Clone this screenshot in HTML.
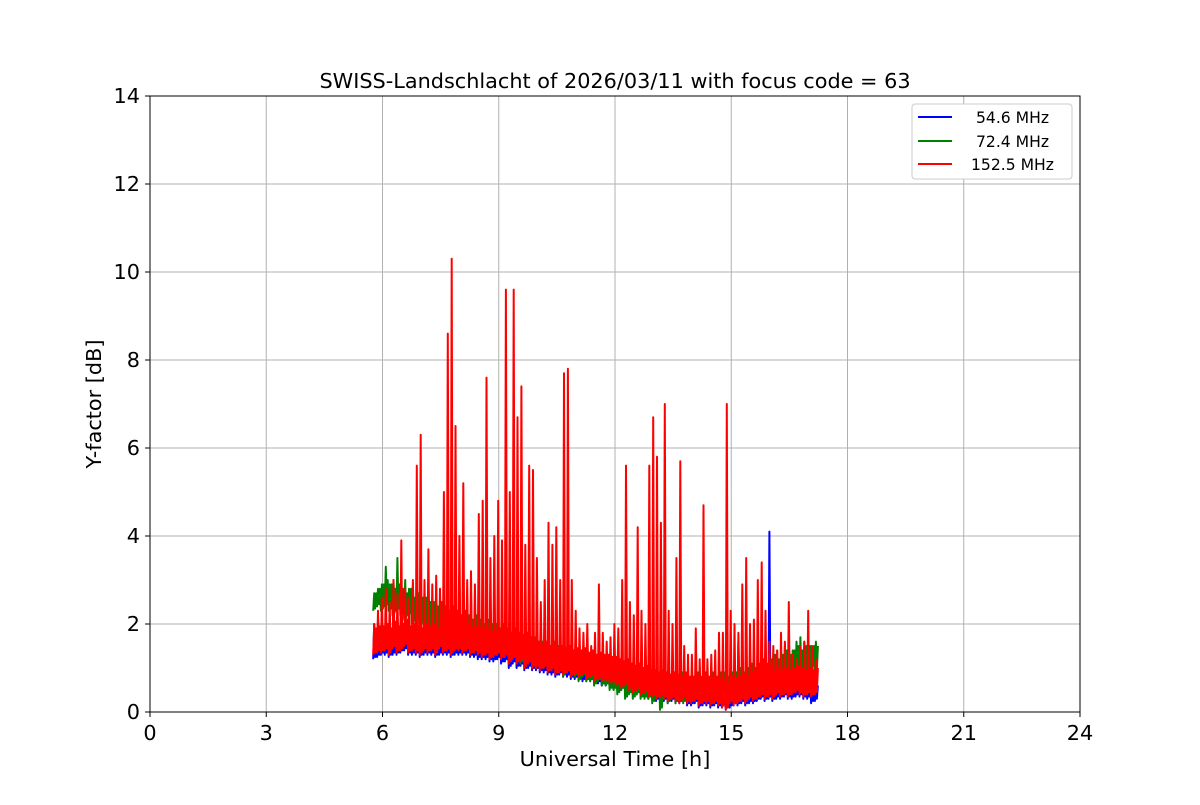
<!DOCTYPE html>
<html><head><meta charset="utf-8"><style>
body{margin:0;background:#fff;}
svg text{font-family:"DejaVu Sans","Liberation Sans",sans-serif;fill:#000;}
</style></head><body>
<svg id="chart" width="1200" height="800" viewBox="0 0 1200 800" xmlns="http://www.w3.org/2000/svg">
<rect width="1200" height="800" fill="#fff"/>
<g id="grid"></g>
<g id="series"></g>
<rect x="150" y="96" width="930" height="616" fill="none" stroke="#000" stroke-width="1"/>
<g id="axes"></g>
<text x="615" y="88" font-size="20.8" text-anchor="middle">SWISS-Landschlacht of 2026/03/11 with focus code = 63</text>
<text x="615" y="766" font-size="20.8" text-anchor="middle">Universal Time [h]</text>
<text transform="translate(101,404) rotate(-90)" font-size="20.8" text-anchor="middle">Y-factor [dB]</text>
<g>
<rect x="912" y="104" width="160" height="75" rx="3" fill="#fff" stroke="#ccc" stroke-width="1"/>
<line x1="918" y1="117" x2="952" y2="117" stroke="#0000ff" stroke-width="2"/>
<text x="976" y="123" font-size="15.6">54.6 MHz</text>
<line x1="918" y1="141" x2="952" y2="141" stroke="#008000" stroke-width="2"/>
<text x="976" y="147" font-size="15.6">72.4 MHz</text>
<line x1="918" y1="164" x2="952" y2="164" stroke="#ff0000" stroke-width="2"/>
<text x="971" y="170" font-size="15.6">152.5 MHz</text>
</g>
</svg>
<script>
const xTicks = [0,3,6,9,12,15,18,21,24];
const yTicks = [0,2,4,6,8,10,12,14];
const tStart = 5.8, tStep = 0.1;
const blueHi = [2.0,2.1, 2.0,2.1,2.2,2.1,2.2,2.0,2.1,2.0,2.1,2.0, 2.0,2.1,2.0,2.0,1.9,2.0,1.9,1.9,1.8,1.9, 1.9,1.8,2.5,1.8,1.8,1.7,1.8,1.7,1.6,1.7, 1.7,1.6,1.7,1.6,1.5,1.6,1.5,1.5,1.4,1.5, 1.4,1.3,1.4,1.3,1.3,1.2,1.3,1.2,1.2,1.1, 1.1,1.1,1.0,1.1,1.0,1.0,0.9,1.0,0.9,0.9, 0.9,0.8,0.9,0.8,0.8,0.7,0.8,0.7,0.7,0.6, 0.6,0.7,0.6,0.6,0.5,0.6,0.5,0.5,0.6,0.5, 0.5,0.5,0.4,0.5,0.5,0.4,0.5,0.4,0.4,0.5, 0.5,0.6,0.5,0.6,0.6,0.7,0.6,0.7,0.7,0.8, 4.1,0.8,0.7,0.8,0.8,0.9,0.8,1.0,0.8,0.9, 0.8,0.7,0.6];
const blueLo = [1.2,1.25, 1.3,1.3,1.25,1.3,1.3,1.35,1.4,1.3,1.3,1.3, 1.25,1.3,1.3,1.3,1.25,1.3,1.3,1.3,1.25,1.3, 1.3,1.3,1.3,1.25,1.25,1.2,1.2,1.2,1.15,1.15, 1.2,1.1,1.15,1.0,1.1,1.0,1.05,0.95,1.0,0.95, 0.95,0.9,0.9,0.85,0.85,0.8,0.85,0.8,0.8,0.75, 0.75,0.75,0.7,0.7,0.7,0.65,0.65,0.6,0.6,0.55, 0.55,0.5,0.5,0.5,0.45,0.4,0.4,0.35,0.4,0.3, 0.3,0.25,0.3,0.25,0.2,0.25,0.2,0.2,0.25,0.15, 0.15,0.2,0.1,0.15,0.15,0.1,0.15,0.1,0.1,0.05, 0.1,0.15,0.15,0.2,0.15,0.2,0.2,0.25,0.3,0.25, 0.3,0.25,0.3,0.3,0.35,0.3,0.3,0.35,0.35,0.3, 0.3,0.2,0.25];
const greenHi = [2.7,2.8, 2.9,3.3,2.9,3.0,3.5,2.9,3.0,2.8,2.9,2.7, 2.8,2.7,2.9,2.6,2.8,2.6,2.5,2.6,2.4,2.5, 2.5,2.4,2.3,2.4,2.3,2.2,2.3,2.2,2.1,2.2, 2.2,2.1,2.0,2.1,1.9,2.0,1.9,1.8,1.9,1.7, 1.7,1.6,1.7,1.5,1.6,1.5,1.6,1.4,1.5,1.4, 1.4,1.3,1.4,1.3,1.3,1.2,1.3,1.2,1.2,1.1, 1.2,1.1,1.1,1.0,1.1,1.0,1.0,0.9,1.0,1.0, 0.9,1.0,0.9,1.0,0.9,1.0,1.1,1.2,0.9,0.8, 1.0,0.9,1.0,1.0,0.9,1.1,1.0,0.9,1.0,1.2, 1.0,1.1,1.6,1.0,1.7,1.1,1.0,1.1,1.2,1.3, 1.2,1.3,1.4,1.3,1.5,1.6,1.4,1.6,1.7,1.6, 1.6,1.5,1.6];
const greenLo = [2.3,2.4, 2.3,2.4,2.3,2.2,2.3,2.2,2.1,2.2,2.0,2.1, 2.0,2.0,1.9,1.9,1.8,1.9,1.8,1.7,1.8,1.7, 1.6,1.7,1.6,1.5,1.6,1.5,1.4,1.5,1.4,1.4, 1.3,1.4,1.3,1.2,1.3,1.2,1.1,1.2,1.1,1.1, 1.0,1.1,1.0,0.9,1.0,0.9,0.9,0.8,0.9,0.8, 0.8,0.7,0.8,0.7,0.7,0.6,0.7,0.6,0.6,0.5, 0.5,0.4,0.5,0.3,0.4,0.3,0.4,0.3,0.3,0.3, 0.2,0.3,0.05,0.3,0.2,0.3,0.2,0.3,0.2,0.3, 0.2,0.3,0.2,0.3,0.2,0.3,0.2,0.3,0.3,0.2, 0.3,0.3,0.4,0.3,0.4,0.5,0.4,0.5,0.6,0.5, 0.6,0.7,0.6,0.7,0.8,0.7,0.8,0.9,0.8,0.9, 0.9,1.0,0.9];
const redHi = [2.0,2.3, 2.6,2.8,2.5,3.0,2.7,3.9,2.8,2.6,3.0,5.6, 6.3,3.0,3.7,2.9,3.1,2.8,5.0,8.6,10.3,6.5, 4.0,5.2,3.0,3.2,2.9,4.5,4.8,7.6,3.5,4.0, 4.8,3.9,9.6,5.0,9.6,6.7,7.4,3.8,5.6,5.5, 3.5,2.5,3.0,4.3,3.8,4.2,3.0,7.7,7.8,3.0, 2.3,1.9,1.8,2.0,1.5,1.8,2.9,1.8,1.6,1.7, 2.0,1.9,3.0,5.6,2.5,2.2,4.2,2.3,2.0,5.6, 6.7,5.8,4.3,7.0,2.3,2.0,3.5,5.7,1.5,1.3, 1.3,1.9,1.2,4.7,1.2,1.3,1.4,1.8,1.8,7.0, 2.3,2.0,1.8,2.9,3.5,2.0,2.1,3.0,3.4,2.3, 1.6,1.5,1.4,1.8,1.6,2.5,1.3,1.2,1.5,1.6, 2.3,1.5,1.2];
const redLo = [1.3,1.35, 1.35,1.4,1.3,1.45,1.35,1.4,1.5,1.35,1.4,1.35, 1.3,1.4,1.35,1.4,1.3,1.45,1.35,1.4,1.3,1.4, 1.4,1.35,1.4,1.3,1.35,1.3,1.25,1.3,1.2,1.25, 1.3,1.2,1.25,1.1,1.2,1.1,1.15,1.0,1.1,1.0, 1.0,0.95,1.0,0.9,0.95,0.85,0.9,0.85,0.9,0.8, 0.85,0.8,0.85,0.75,0.8,0.7,0.75,0.7,0.7,0.65, 0.65,0.6,0.55,0.6,0.5,0.45,0.5,0.4,0.45,0.35, 0.35,0.3,0.35,0.3,0.25,0.3,0.25,0.2,0.3,0.2, 0.2,0.25,0.15,0.2,0.2,0.15,0.2,0.15,0.1,0.05, 0.2,0.15,0.2,0.25,0.2,0.3,0.25,0.3,0.35,0.3, 0.35,0.3,0.4,0.35,0.4,0.35,0.4,0.45,0.4,0.35, 0.4,0.35,0.4];

const X0=150, X1=1080, Y0=712, Y1=96;
function xs(t){return X0 + (t/24)*(X1-X0);}
function ys(v){return Y0 - (v/14)*(Y0-Y1);}
const NS='http://www.w3.org/2000/svg';
const grid=document.getElementById('grid'), axes=document.getElementById('axes'), series=document.getElementById('series');
function mk(tag,attrs,parent){const e=document.createElementNS(NS,tag);for(const k in attrs)e.setAttribute(k,attrs[k]);parent.appendChild(e);return e;}

xTicks.forEach(t=>{
  const gl=mk('line',{x1:xs(t),x2:xs(t),y1:Y1,y2:Y0,stroke:'#b0b0b0','stroke-width':1},grid);
  
  
  mk('line',{x1:xs(t),x2:xs(t),y1:Y0,y2:Y0+5,stroke:'#000','stroke-width':1},axes);
  const tx=mk('text',{x:xs(t),y:Y0+28,'font-size':20.8,'text-anchor':'middle'},axes);
  tx.textContent=t;
  
  
});
yTicks.forEach(v=>{
  const gl=mk('line',{x1:X0,x2:X1,y1:ys(v),y2:ys(v),stroke:'#b0b0b0','stroke-width':1},grid);
  
  
  mk('line',{x1:X0-5,x2:X0,y1:ys(v),y2:ys(v),stroke:'#000','stroke-width':1},axes);
  const tx=mk('text',{x:X0-10,y:ys(v)+7,'font-size':20.8,'text-anchor':'end'},axes);
  tx.textContent=v;
  
  
});

function drawSeries(lo,hi,color,name){
  const pts=[];
  for(let i=0;i<lo.length;i++){
    const t=tStart+i*tStep;
    const body=Math.min(hi[i], lo[i]+0.6);
    pts.push(xs(t-0.04).toFixed(1)+','+ys(lo[i]).toFixed(1));
    pts.push(xs(t-0.015).toFixed(1)+','+ys(hi[i]).toFixed(1));
    pts.push(xs(t+0.01).toFixed(1)+','+ys(lo[i]+0.05).toFixed(1));
    pts.push(xs(t+0.035).toFixed(1)+','+ys(body).toFixed(1));
  }
  const p=mk('polyline',{points:pts.join(' '),fill:'none',stroke:color,'stroke-width':2,'stroke-linejoin':'round'},series);
  
  
}
drawSeries(blueLo,blueHi,'#0000ff','series-54-6-mhz');
drawSeries(greenLo,greenHi,'#008000','series-72-4-mhz');
drawSeries(redLo,redHi,'#ff0000','series-152-5-mhz');
</script>
</body></html>
